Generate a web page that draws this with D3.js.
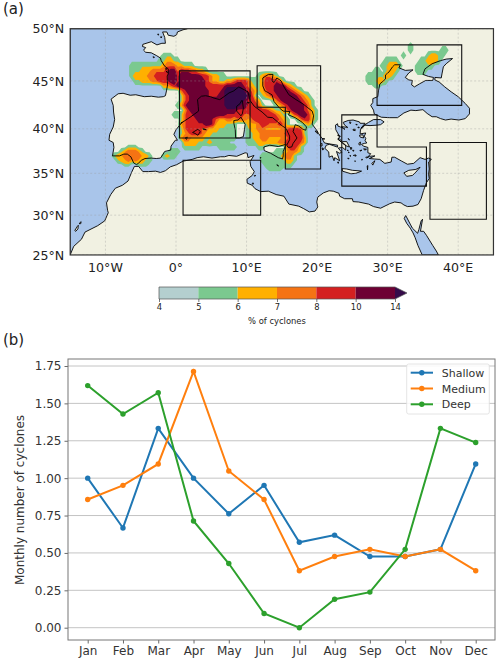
<!DOCTYPE html>
<html><head><meta charset="utf-8">
<script src="https://cdn.jsdelivr.net/npm/d3@7"></script>
<style>html,body{margin:0;padding:0;background:#fff}svg{display:block;font-family:"DejaVu Sans",sans-serif}</style>
</head><body><svg id="c" width="500" height="664"></svg>
<script>
// ---------- data: map ----------
const mainSea = [[1.6,50],[1,49.9],[0.2,49.7],[0.1,49.45],[-0.3,49.3],[-1.1,49.4],[-1.3,49.7],[-1.9,49.7],[-1.6,49.2],[-1.5,48.65],[-2,48.65],[-2.7,48.5],[-3.5,48.8],[-4.7,48.55],[-4.75,48.35],[-4.3,48.25],[-4.6,48],[-4.3,47.8],[-3.5,47.75],[-2.8,47.5],[-2.2,47.25],[-2.1,47],[-1.6,46.45],[-1.1,46.2],[-1.1,45.7],[-1.25,45.5],[-1.2,44.6],[-1.35,44],[-1.5,43.5],[-1.8,43.4],[-2.5,43.35],[-3.5,43.45],[-4.5,43.4],[-5.7,43.6],[-6.5,43.55],[-7.5,43.75],[-8.2,43.7],[-9.2,43.15],[-8.9,42.5],[-8.85,41.8],[-8.7,41],[-8.9,40.2],[-9.4,39.4],[-9.5,38.75],[-8.9,38.5],[-8.8,37.95],[-9,37],[-8,37],[-7.4,37.2],[-6.9,37.2],[-6.4,36.9],[-6,36.2],[-5.6,36],[-5.35,36.15],[-4.9,36.5],[-4.4,36.7],[-3.5,36.75],[-2.8,36.7],[-2.2,36.75],[-1.9,37.1],[-1.6,37.5],[-0.75,37.65],[-0.7,38.1],[-0.1,38.75],[0.2,38.75],[-0.3,39.4],[0,39.9],[0.9,40.75],[0.7,40.6],[2.1,41.3],[3.2,41.9],[3.15,42.4],[3.05,43.1],[3.6,43.45],[4.2,43.5],[4.9,43.4],[5.4,43.25],[6.2,43.1],[6.9,43.45],[7.5,43.78],[8.2,44],[8.9,44.4],[9.7,44.1],[10.2,43.9],[10.5,43],[11.1,42.4],[12.2,41.8],[13,41.25],[13.7,41.2],[14.4,40.75],[14.9,40.4],[15.6,40.05],[16.1,39.2],[16.1,38.8],[15.7,38.2],[15.9,37.95],[16.4,38],[16.6,38.4],[17.15,39],[16.6,39.7],[16.9,40.45],[17.4,40.3],[18,39.95],[18.4,39.85],[18.5,40.2],[17.9,40.7],[16.9,41.2],[15.95,41.5],[16.15,41.85],[15.2,41.9],[14.7,42.2],[13.9,42.9],[13.6,43.6],[12.6,44],[12.3,44.5],[12.3,45.3],[13.1,45.65],[13.75,45.65],[13.6,45],[13.9,44.85],[14.3,45.3],[14.9,45],[15.3,44.4],[16,43.6],[17,43.1],[18,42.65],[18.6,42.3],[19.3,41.9],[19.5,41.4],[19.3,40.5],[19.9,39.9],[20.2,39.5],[20.7,38.95],[21.1,38.9],[20.75,38.85],[21.05,38.45],[21.7,38.35],[22.9,38.2],[22.9,37.98],[22.3,38.15],[21.75,38.3],[21.3,38.2],[21.1,37.85],[21.65,37.45],[21.7,36.85],[22.15,37],[22.4,36.45],[22.5,36.8],[23.2,36.45],[22.75,37.5],[23.15,37.3],[23.5,37.4],[23,37.88],[23.6,37.95],[24.05,37.65],[24.05,38.2],[23.6,38.5],[22.95,38.85],[23.3,39.2],[22.9,39.3],[23.2,39.15],[22.65,39.9],[22.6,40.4],[22.9,40.55],[22.95,40.3],[23.3,40.2],[23.95,39.95],[23.4,40.25],[24.35,40.15],[23.9,40.4],[23.7,40.7],[24.4,40.9],[25.1,40.95],[26,40.75],[26.1,40.6],[26.8,40.6],[26.2,40.05],[26.7,40.4],[26.75,40.38],[26.3,40],[26.15,39.95],[26.1,39.45],[26.9,39.55],[26.7,39.2],[26.9,38.95],[26.8,38.7],[27.05,38.45],[26.7,38.4],[26.3,38.3],[26.55,38.1],[27.2,37.95],[27.2,37.35],[27.6,37.25],[27.3,36.95],[28.2,37],[27.4,36.7],[28.1,36.65],[28.9,36.6],[29.6,36.15],[30.5,36.3],[30.6,36.85],[31,36.85],[32,36.4],[32.8,36.05],[33.7,36.15],[34.6,36.8],[35.3,36.6],[35.8,36.75],[36.2,36.6],[35.8,36.3],[35.9,35.5],[35.8,34.9],[35.9,34.4],[35.5,33.9],[35.1,33],[34.75,32],[34.3,31.3],[33.6,31.1],[32.8,31.05],[32.3,31.25],[31.9,31.5],[31,31.6],[30.3,31.4],[29,30.85],[28,31.05],[27.3,31.35],[25.9,31.6],[25.1,31.65],[25,32],[23.9,32],[23.2,32.3],[23.1,32.65],[22.3,32.9],[21.7,32.95],[20.9,32.7],[20.1,32.2],[19.95,31.6],[20.1,31],[19.7,30.5],[18.9,30.4],[18.1,30.8],[17.4,31.1],[16,31.35],[15.3,32.3],[14.2,32.5],[13.1,32.9],[12,32.85],[11.2,33.2],[10.8,33.6],[10.1,33.85],[10.05,34.3],[10.8,34.75],[11.1,35.2],[10.6,35.8],[10.5,36.35],[11.05,37.05],[10.2,36.8],[10.1,37.3],[9.8,37.35],[8.6,36.95],[7.5,37.05],[6.9,36.9],[6.3,36.9],[5.1,36.75],[3.9,36.9],[3,36.8],[2.3,36.6],[1,36.4],[0.1,36],[-0.8,35.75],[-1.5,35.3],[-2.2,35.1],[-2.9,35.25],[-3.9,35.2],[-4.7,35.2],[-5.3,35.8],[-5.9,35.8],[-6.3,35.1],[-6.8,34.1],[-7.6,33.6],[-8.6,33.25],[-9.25,32.5],[-9.85,31.5],[-9.7,30.6],[-9.6,30.3],[-10.1,29.3],[-11.1,28.7],[-12.9,27.9],[-13.4,27],[-14.5,26.1],[-15,25],[-15,50]];
const blackSea = [[28,42],[27.6,42.5],[27.9,42.8],[27.9,43.2],[28.6,43.4],[28.7,44],[28.9,44.7],[29.7,45.2],[29.7,45.6],[30.2,45.9],[30.7,46.4],[31,46.6],[31.8,46.6],[31.6,46.3],[32.5,46.05],[33.6,46.1],[33,45.8],[32.5,45.35],[33,45.1],[33.5,45.05],[33.4,44.6],[33.8,44.4],[34.5,44.7],[35.4,45.05],[36.4,45.05],[36.5,45.35],[35.8,45.45],[35,45.65],[35.3,46.2],[36.3,46.7],[37.5,47],[38.3,47.15],[39.2,47.2],[38.3,46.7],[37.9,46.4],[37.7,45.7],[37.6,45.3],[36.7,45.35],[36.7,45.1],[37.3,44.9],[38.1,44.4],[39,43.9],[40,43.4],[41,42.7],[41.6,42.2],[41.6,41.6],[41,41.1],[40.1,40.95],[39,41.05],[38.2,40.95],[37.5,41.1],[36.9,41.3],[36.3,41.3],[35.6,41.65],[35,42.05],[34,41.95],[33.3,42],[32.3,41.7],[31.4,41.2],[30.3,41.2],[29.1,41.25],[28.1,41.6]];
const marmara = [[26.7,40.4],[27.5,40.35],[28.5,40.4],[29,40.45],[29.5,40.75],[29,41],[28,41],[27.3,40.7]];
const redSea = [[32.55,29.95],[32.35,29.6],[32.7,29],[33.2,28.4],[33.6,27.8],[33.9,27.2],[34.3,26.2],[34.9,25],[37.2,25],[36.9,25.5],[36.4,26.2],[35.5,27.5],[35.1,28],[34.65,28],[34.95,29.5],[34.75,29.3],[34.42,28.2],[34.25,27.75],[33.5,28.4],[33.2,28.9],[32.6,29.9]];
const islands = [
 [[9.4,43],[9.55,42.2],[9.4,41.6],[9.2,41.4],[8.6,41.9],[8.6,42.4],[9.1,42.7],[9.3,43]],
 [[9.2,41.25],[9.8,40.5],[9.7,39.9],[9.55,39.15],[9,39],[8.45,39],[8.4,39.9],[8.2,40.6],[8.2,40.9],[8.8,40.95]],
 [[12.45,38],[13.3,38.2],[14.5,38.05],[15.6,38.3],[15.2,37.5],[15.2,37],[15.1,36.65],[14.5,36.8],[13.4,37.3],[12.5,37.6]],
 [[2.35,39.6],[3.1,39.95],[3.45,39.7],[3.1,39.3],[2.7,39.5]],[[3.8,40.05],[4.3,39.9],[3.85,39.93]],[[1.3,39],[1.6,39.1],[1.5,38.85]],
 [[23.55,35.55],[24.2,35.5],[25,35.35],[25.8,35.3],[26.3,35.25],[25.5,35],[24.8,34.95],[23.6,35.25]],
 [[32.3,35.05],[33,35.35],[34,35.45],[34.6,35.7],[33.9,35.05],[33.5,34.75],[32.7,34.65]],
 [[27.75,36.15],[28.2,36.45],[27.9,35.95]],[[26,39.3],[26.5,39.35],[26.6,39],[26.1,39.1]],[[26,38.5],[26.15,38.55],[26.1,38.2],[25.9,38.3]],
 [[23,39],[23.6,38.6],[24.2,38.6],[24.6,38],[24.2,38.1],[23.6,38.4],[23,38.85]],[[20.5,38.3],[20.7,38.4],[20.7,38.1],[20.45,38.15]],[[19.7,39.75],[20,39.75],[20.1,39.45]],[[20.7,37.9],[20.95,37.8],[20.8,37.65]],
 [[25.1,39.95],[25.4,39.95],[25.4,39.8],[25.1,39.85]],[[24.6,40.75],[24.8,40.7],[24.7,40.55]],[[25.5,40.5],[25.7,40.45],[25.55,40.42]],[[25.8,40.2],[26,40.15],[25.8,40.1]],[[24.4,38.95],[24.6,38.8],[24.5,38.8]],
 [[24.7,37.95],[24.95,37.9],[24.8,37.7]],[[25.05,37.65],[25.25,37.6],[25.1,37.52]],[[25.15,37.05],[25.25,37.1],[25.3,37]],[[25.4,37.15],[25.55,37],[25.45,36.95]],[[25.35,36.45],[25.45,36.42],[25.38,36.35]],[[24.35,36.75],[24.55,36.7],[24.4,36.65]],[[24.3,37.65],[24.4,37.65],[24.35,37.55]],[[24.45,37.45],[24.55,37.4],[24.47,37.32]],[[24.65,37.05],[24.8,37],[24.7,36.95]],
 [[26.6,37.8],[27,37.75],[26.75,37.65]],[[26.05,37.6],[26.35,37.65],[26.2,37.55]],[[26.9,36.85],[27.35,36.9],[27,36.75]],[[27.1,35.85],[27.2,35.9],[27.15,35.4]],[[26.3,36.6],[26.45,36.6],[26.35,36.5]],[[22.9,36.3],[23.05,36.3],[23,36.15]],
 [[14.3,36],[14.55,35.85],[14.35,35.9]],[[10.8,33.85],[11,33.85],[10.9,33.7]],[[11.1,34.75],[11.3,34.75],[11.15,34.65]],[[11.95,36.82],[12.05,36.8],[11.98,36.72]],[[10.1,42.82],[10.4,42.8],[10.2,42.72]],
 [[-2.6,49.5],[-2.45,49.5],[-2.5,49.4]],[[-2.2,49.25],[-2,49.25],[-2.1,49.15]],[[-3.25,47.38],[-3.05,47.32],[-3.2,47.28]],[[-1.5,46.22],[-1.3,46.2],[-1.45,46.15]],[[-1.4,46],[-1.2,45.85],[-1.25,45.82]],
 [[-14.35,28.1],[-14,28.6],[-13.85,28.75],[-13.9,28.3],[-14.2,28]],[[-13.75,28.95],[-13.45,29.2],[-13.5,28.95]]
];
// rectangles & outlined regions of the analysis boxes
const boxes = [
 [[0.5,46],[10.5,46],[10.5,39],[0.5,39]],
 [[1,36.5],[12,36.5],[12,30],[1,30]],
 [[11.5,46.5],[20.5,46.5],[20.5,35.5],[15.5,35.5],[15.5,42.3],[11.5,42.3]],
 [[23.5,41.5],[28.5,41.5],[28.5,38],[35.5,38],[35.5,33.5],[23.5,33.5]],
 [[36,38.5],[44,38.5],[44,29.5],[36,29.5]],
 [[28.5,48.5],[40.5,48.5],[40.5,42.5],[28.5,42.5]]
];
const lonTicks=[-10,0,10,20,30,40], lonLabels=["10°W","0°","10°E","20°E","30°E","40°E"];
const latTicks=[25,30,35,40,45,50], latLabels=["25°N","30°N","35°N","40°N","45°N","50°N"];
// heat bins, written as row latitude and "column:bin" change points
const heatColors=["#7bc98f","#ffb000","#f57314","#d42020","#6d0033","#350a4a"];
const mainHeat={lon0:-7,lats:[47.5,47,46.5,46,45.5,45,44.5,44,43.5,43,42.5,42,41.5,41,40.5,40,39.5,39,38.5,38,37.5,37,36.5,36,35.5],cols:57,rows:[
"10:1 13:0","9:1 11:2 13:1 15:0","1:1 10:2 11:3 14:2 16:1 19:0","1:1 4:2 7:3 11:4 12:5 14:3 15:4 18:3 20:2 22:1 23:0",
"1:1 2:2 6:3 8:4 12:5 14:4 15:5 21:4 23:3 24:2 26:1 28:0 37:1 38:2 39:3 41:2 42:1 43:0",
"2:1 4:2 7:3 9:4 12:5 14:4 15:5 22:4 23:3 24:2 26:1 28:2 30:3 31:4 34:3 35:1 38:2 39:4 43:3 44:1 45:0",
"10:2 12:3 13:4 14:5 22:4 28:5 33:4 34:3 35:2 36:1 38:2 39:4 42:5 45:3 46:2 47:1 48:0",
"15:3 16:4 17:5 23:4 27:5 28:6 33:5 34:4 35:3 36:2 37:1 38:2 39:3 40:4 42:5 46:4 47:3 48:2 49:1 50:0",
"15:1 16:3 17:4 18:5 23:4 26:5 28:6 34:5 35:4 36:1 37:0 38:1 39:2 40:3 41:4 43:5 48:4 49:3 50:2 51:1 52:0",
"15:1 16:3 17:4 18:5 28:6 33:5 34:4 36:3 37:2 38:0 41:1 42:3 43:4 44:5 49:4 50:3 51:2 52:1 53:0",
"14:1 15:2 16:4 17:5 28:6 32:5 34:4 37:3 38:1 39:0 42:1 43:2 44:3 45:4 46:5 50:4 51:3 52:1 53:0",
"16:2 17:4 18:5 31:4 40:3 41:2 42:1 44:2 45:3 46:4 47:5 50:4 51:3 52:2 53:1 54:0",
"13:1 16:3 17:4 19:5 28:4 33:3 35:4 42:3 43:2 44:1 45:0 46:1 47:3 48:4 49:5 51:4 52:2 53:1 54:0",
"15:1 16:3 17:4 20:5 24:4 25:3 26:2 28:3 30:2 31:3 34:2 35:3 36:4 43:3 44:2 45:1 46:0 48:1 49:3 50:4 52:2 53:1 54:0",
"15:2 16:3 17:4 22:5 24:4 25:2 28:1 31:0 34:2 37:3 38:4 40:3 43:4 44:3 45:1 46:0 50:1 51:2 52:1 53:0",
"15:1 16:3 17:4 21:3 23:2 26:1 31:0 34:1 35:2 37:3 39:2 44:3 46:4 49:3 50:1 51:0",
"15:1 16:2 17:3 18:4 21:3 22:2 24:1 31:0 34:1 36:2 38:3 45:4 50:1 51:0",
"15:2 16:3 18:2 22:1 31:0 34:1 36:2 38:3 40:2 44:3 46:4 50:2 51:0",
"16:2 20:1 23:2 24:1 29:0 34:1 37:2 43:3 45:4 49:3 50:2 51:0",
"16:1 21:0 26:1 31:0 37:1 39:0 45:3 46:4 48:3 49:1 50:0",
"12:1 15:0 42:1 45:2 46:3 48:2 49:1 50:0",
"10:1 11:2 12:1 14:0 38:1 44:2 45:3 47:1 48:0",
"38:1 45:2 47:1 48:0","39:1 47:0","40:1 44:0"]};
const westHeat={lon0:-9.5,lats:[38,37.5,37,36.5,36],cols:13,rows:[
"5:1 8:0","3:1 4:2 5:3 8:2 9:1 10:0","1:1 2:2 4:3 9:2 11:1 12:0","2:1 3:2 5:3 6:2 7:3 8:2 10:1 12:0","4:1 6:0 8:1 11:0"]};
const eastHeat={lon0:26.5,lats:[48.5,48,47.5,47,46.5,46,45.5,45,44.5],cols:26,rows:[
"13:1 14:0","13:1 14:0 22:1 24:0","11:1 12:0 18:1 19:2 21:1 23:0","6:1 10:0 16:1 18:2 21:1 22:0","5:1 7:2 10:1 11:0 15:1 20:0",
"3:1 5:0 6:1 7:2 9:1 10:0 15:1 18:0","1:1 6:2 8:1 9:0","1:1 4:2 6:1 7:0","3:1 5:0"]};
// colour bar
const barLabels=["4","5","6","7","8","10","14"];
const barColors=["#b4cfcf","#7bc98f","#ffb000","#f57314","#d42020","#6d0033"];
const barArrow="#350a4a";
// ---------- data: line chart ----------
const months=["Jan","Feb","Mar","Apr","May","Jun","Jul","Aug","Sep","Oct","Nov","Dec"];
const shallow=[1,0.667,1.333,1,0.762,0.952,0.571,0.619,0.476,0.476,0.524,1.095];
const medium=[0.857,0.952,1.095,1.714,1.048,0.857,0.381,0.476,0.524,0.476,0.524,0.381];
const deep=[1.619,1.429,1.571,0.714,0.429,0.095,0,0.19,0.238,0.524,1.333,1.238];
const seriesNames=["Shallow","Medium","Deep"];
const seriesColors=["#1f77b4","#ff7f0e","#2ca02c"];
const yTicks=[0,0.25,0.5,0.75,1,1.25,1.5,1.75];

const svg=d3.select("#c");
const ink="#222";
// ---------- map ----------
const proj=d3.geoMercator().scale(404.2).translate([176,437.2]);
const P=p=>proj(p);
const [fx0,fy0]=P([-15,50]), [fx1,fy1]=P([45,25]);
const line=d3.line().curve(d3.curveLinear);
const closed=pts=>line(pts.map(P))+"Z";
svg.append("clipPath").attr("id","mapClip").append("rect").attr("x",fx0).attr("y",fy0).attr("width",fx1-fx0).attr("height",fy1-fy0);
const map=svg.append("g").attr("clip-path","url(#mapClip)");
map.append("rect").attr("x",fx0).attr("y",fy0).attr("width",fx1-fx0).attr("height",fy1-fy0).attr("fill","#f1f1e2");
map.selectAll("path.sea").data([mainSea,blackSea,marmara,redSea]).join("path").attr("class","sea").attr("d",closed).attr("fill","#a9c5ea");
map.selectAll("path.isl").data(islands).join("path").attr("class","isl").attr("d",closed).attr("fill","#f1f1e2");
function drawHeat(h){
  const n=h.cols,m=h.lats.length,vals=new Array(n*m).fill(0);
  h.rows.forEach((r,j)=>{
    const stops=r.split(" ").map(s=>s.split(":").map(Number));
    stops.forEach(([c,v],k)=>{const end=k+1<stops.length?stops[k+1][0]:n;for(let i=c;i<end;i++)vals[j*n+i]=v;});
  });
  const step=0.5,latTop=h.lats[0];
  const tr=d3.geoTransform({point(x,y){const q=P([h.lon0+x*step,latTop-(y-0.5)*step]);this.stream.point(q[0],q[1]);}});
  const gp=d3.geoPath(tr);
  const cs=d3.contours().size([n,m]).thresholds(heatColors.map((c,i)=>i+0.2))(vals);
  cs.forEach((c,i)=>map.append("path").attr("d",gp(c)).attr("fill",heatColors[i]));
}
[mainHeat,westHeat,eastHeat].forEach(drawHeat);
map.selectAll("path.coast").data([mainSea,blackSea,marmara,redSea].concat(islands)).join("path").attr("class","coast").attr("d",closed).attr("fill","none").attr("stroke","#000").attr("stroke-width",0.9).attr("stroke-linejoin","round");
const grid=map.append("g").attr("stroke","#999").attr("stroke-opacity",0.45).attr("stroke-width",0.8).attr("stroke-dasharray","2,2").attr("fill","none");
lonTicks.forEach(l=>grid.append("line").attr("x1",P([l,25])[0]).attr("x2",P([l,25])[0]).attr("y1",fy0).attr("y2",fy1));
latTicks.forEach(l=>grid.append("line").attr("y1",P([0,l])[1]).attr("y2",P([0,l])[1]).attr("x1",fx0).attr("x2",fx1));
map.selectAll("path.box").data(boxes).join("path").attr("class","box").attr("d",closed).attr("fill","none").attr("stroke","#111").attr("stroke-width",1.1);
svg.append("rect").attr("x",fx0).attr("y",fy0).attr("width",fx1-fx0).attr("height",fy1-fy0).attr("fill","none").attr("stroke","#333").attr("stroke-width",1.2);
svg.selectAll("text.lon").data(lonTicks).join("text").attr("class","lon").attr("x",d=>P([d,25])[0]).attr("y",fy1+17).attr("text-anchor","middle").attr("font-size",12.6).attr("fill",ink).text((d,i)=>lonLabels[i]);
svg.selectAll("text.lat").data(latTicks).join("text").attr("class","lat").attr("x",fx0-6).attr("y",d=>P([0,d])[1]+4.6).attr("text-anchor","end").attr("font-size",12.6).attr("fill",ink).text((d,i)=>latLabels[i]);
svg.append("text").attr("x",3).attr("y",14).attr("font-size",15).attr("fill",ink).text("(a)");
svg.append("text").attr("x",3).attr("y",345).attr("font-size",15).attr("fill",ink).text("(b)");
// colour bar
const barX=d3.scalePoint().domain(barLabels).range([159,395]);
const barTop=287,barBot=299;
barColors.forEach((c,i)=>svg.append("rect").attr("x",barX(barLabels[i])).attr("y",barTop).attr("width",barX(barLabels[i+1])-barX(barLabels[i])).attr("height",barBot-barTop).attr("fill",c));
svg.append("path").attr("d",`M395,${barTop}L407,${(barTop+barBot)/2}L395,${barBot}Z`).attr("fill",barArrow);
svg.append("path").attr("d",`M159,${barTop}H395L407,${(barTop+barBot)/2}L395,${barBot}H159Z`).attr("fill","none").attr("stroke","#555").attr("stroke-width",0.7);
const barAxis=d3.axisBottom(barX).tickSize(3).tickSizeOuter(0);
const bg=svg.append("g").attr("transform",`translate(0,${barBot})`).call(barAxis);
bg.select(".domain").remove();
bg.selectAll("text").attr("font-size",8.4).attr("font-family","DejaVu Sans").attr("fill",ink).attr("y",5);
bg.selectAll("line").attr("stroke",ink).attr("stroke-width",0.6);
svg.append("text").attr("x",277).attr("y",324).attr("text-anchor","middle").attr("font-size",8.4).attr("fill",ink).text("% of cyclones");
// ---------- line chart ----------
const plotL=68,plotR=495,plotT=359,plotB=640;
const x=d3.scalePoint().domain(months).range([87.7,475.7]);
const y=d3.scaleLinear().domain([0,1.75]).range([627.7,366]);
const gridB=svg.append("g");
gridB.selectAll("line").data(yTicks).join("line").attr("x1",plotL).attr("x2",plotR).attr("y1",d=>y(d)).attr("y2",d=>y(d)).attr("stroke","#c4c4c4").attr("stroke-width",1);
const ya=svg.append("g").attr("transform",`translate(${plotL},0)`).call(d3.axisLeft(y).tickValues(yTicks).tickFormat(d3.format(".2f")).tickSize(3.5).tickSizeOuter(0));
ya.select(".domain").remove();
ya.selectAll("text").attr("font-size",12).attr("font-family","DejaVu Sans").attr("fill","#333");
ya.selectAll("line").attr("stroke","#444").attr("stroke-width",0.8);
const xa=svg.append("g").attr("transform",`translate(0,${plotB})`).call(d3.axisBottom(x).tickSize(3.5).tickSizeOuter(0));
xa.select(".domain").remove();
xa.selectAll("text").attr("font-size",12).attr("font-family","DejaVu Sans").attr("fill","#333");
xa.selectAll("line").attr("stroke","#444").attr("stroke-width",0.8);
svg.append("rect").attr("x",plotL).attr("y",plotT).attr("width",plotR-plotL).attr("height",plotB-plotT).attr("fill","none").attr("stroke","#777").attr("stroke-width",1);
svg.append("text").attr("transform",`translate(24,500) rotate(-90)`).attr("text-anchor","middle").attr("font-size",12).attr("fill","#333").text("Monthly number of cyclones");
[shallow,medium,deep].forEach((s,i)=>{
  const g=svg.append("g");
  g.append("path").attr("d",d3.line().x((d,k)=>x(months[k])).y(d=>y(d))(s)).attr("fill","none").attr("stroke",seriesColors[i]).attr("stroke-width",2);
  g.selectAll("circle").data(s).join("circle").attr("cx",(d,k)=>x(months[k])).attr("cy",d=>y(d)).attr("r",2.7).attr("fill",seriesColors[i]);
});
const lg=svg.append("g");
lg.append("rect").attr("x",406.7).attr("y",364).attr("width",82.6).attr("height",50).attr("rx",2).attr("fill","#fff").attr("fill-opacity",0.85).attr("stroke","#ddd").attr("stroke-width",0.8);
seriesNames.forEach((n,i)=>{
  const yy=372.7+i*15.8;
  lg.append("line").attr("x1",410.7).attr("x2",433).attr("y1",yy).attr("y2",yy).attr("stroke",seriesColors[i]).attr("stroke-width",2);
  lg.append("circle").attr("cx",421.8).attr("cy",yy).attr("r",2.7).attr("fill",seriesColors[i]);
  lg.append("text").attr("x",441.7).attr("y",yy+4).attr("font-size",11).attr("fill","#333").text(n);
});
</script></body></html>
